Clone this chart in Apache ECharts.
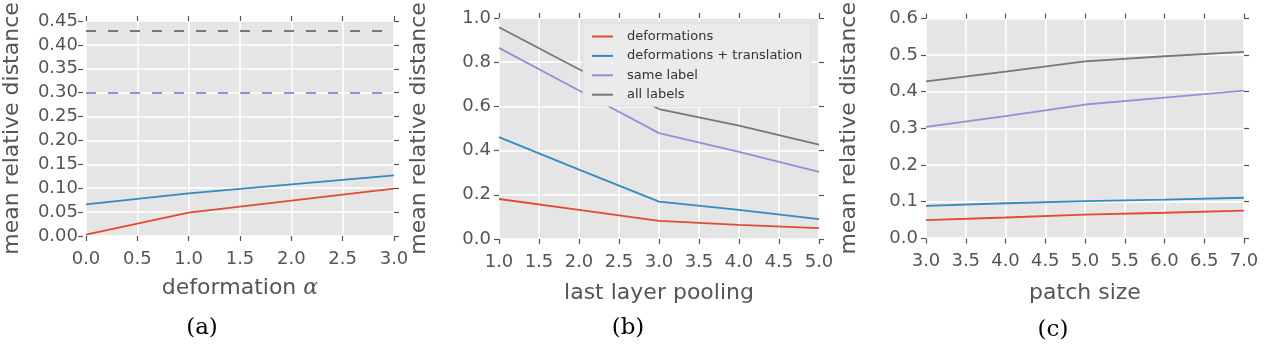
<!DOCTYPE html>
<html>
<head>
<meta charset="utf-8">
<script src="https://cdn.jsdelivr.net/npm/echarts@6/dist/echarts.min.js"></script>
<style>
  html, body { margin: 0; background: #fff; }
  #chart { width: 1264px; height: 354px; }
</style>
</head>
<body>
<div id="chart"></div>
<script>
// series names / colours shared by the three panels
const seriesNames = ["deformations", "deformations + translation", "same label", "all labels"];
const seriesColors = ["#E24A33", "#348ABD", "#988ED5", "#777777"];

// (a) deformation alpha
const alphaX = [0, 1, 2, 3];
const alphaDeform = [0.003, 0.049, 0.074, 0.099];
const alphaDeformTrans = [0.066, 0.089, 0.108, 0.127];
const alphaSameLabel = [0.304];
const alphaAllLabels = [0.428];

// (b) last layer pooling
const poolX = [1, 2, 3, 4, 5];
const poolDeform = [0.181, 0.132, 0.082, 0.064, 0.049];
const poolDeformTrans = [0.461, 0.314, 0.169, 0.132, 0.090];
const poolSameLabel = [0.865, 0.672, 0.479, 0.394, 0.304];
const poolAllLabels = [0.958, 0.768, 0.588, 0.513, 0.427];

// (c) patch size
const patchX = [3, 4, 5, 6, 7];
const patchDeform = [0.049, 0.056, 0.064, 0.069, 0.075];
const patchDeformTrans = [0.088, 0.095, 0.101, 0.105, 0.110];
const patchSameLabel = [0.304, 0.333, 0.365, 0.384, 0.403];
const patchAllLabels = [0.428, 0.455, 0.483, 0.497, 0.509];

const captions = ["(a)", "(b)", "(c)"];

const FONT = "DejaVu Sans";
const TXT = "#555555";

// plot boxes of the three panels
const grids = [
  { left: 83, right: 870, top: 21, height: 215 },
  { left: 499, right: 445, top: 18, height: 221 },
  { left: 926, right: 20, top: 18, height: 220 }
];
const plotWidth = g => 1264 - g.left - g.right;

function pairs(xs, ys) {
  return xs.map((x, i) => [x, ys[i]]);
}

// axis that only draws tick marks (matplotlib-like ticks on all four sides);
// the bottom/left ones are top/right axes shifted across the plot with ticks flipped
function tickAxis(idx, min, max, interval, position, offset) {
  return {
    type: "value", gridIndex: idx, min: min, max: max, interval: interval,
    position: position,
    offset: offset,
    axisLine: { show: true, onZero: false, lineStyle: { color: "rgba(0,0,0,0)", width: 1 } },
    axisTick: { show: true, inside: offset < 0, length: 5, lineStyle: { color: TXT, width: 1.2 } },
    axisLabel: { show: false },
    splitLine: { show: false }
  };
}

function xAxes(idx, min, max, name, gap) {
  return [
    {
      type: "value", gridIndex: idx, min: min, max: max, interval: 0.5,
      position: "bottom",
      name: name, nameLocation: "middle", nameGap: gap,
      nameTextStyle: {
        fontFamily: FONT, fontSize: 22, color: TXT,
        rich: { a: { fontFamily: "DejaVu Serif", fontStyle: "italic", fontSize: 22, color: TXT } }
      },
      axisLine: { show: false },
      axisTick: { show: false },
      axisLabel: { fontFamily: FONT, fontSize: 18, color: TXT, margin: 14, formatter: v => v.toFixed(1) },
      splitLine: { show: true, lineStyle: { color: "#ffffff", width: 1.5 } }
    },
    tickAxis(idx, min, max, 0.5, "top", 0),
    tickAxis(idx, min, max, 0.5, "top", -grids[idx].height)
  ];
}

function yAxes(idx, max, interval, digits, gap) {
  return [
    {
      type: "value", gridIndex: idx, min: 0, max: max, interval: interval,
      position: "left",
      name: "mean relative distance", nameLocation: "middle", nameGap: gap, nameRotate: 90,
      nameTextStyle: { fontFamily: FONT, fontSize: 22, color: TXT },
      axisLine: { show: false },
      axisTick: { show: false },
      axisLabel: { fontFamily: FONT, fontSize: 18, color: TXT, margin: 8, formatter: v => v.toFixed(digits) },
      splitLine: { show: true, lineStyle: { color: "#ffffff", width: 1.5 } }
    },
    tickAxis(idx, 0, max, interval, "right", 0),
    tickAxis(idx, 0, max, interval, "right", -plotWidth(grids[idx]))
  ];
}

function lineSeries(k, idx, data, extra) {
  return Object.assign({
    type: "line",
    name: seriesNames[k],
    xAxisIndex: idx * 3,
    yAxisIndex: idx * 3,
    data: data,
    symbol: "none",
    silent: true,
    lineStyle: { color: seriesColors[k], width: 1.8 },
    itemStyle: { color: seriesColors[k] }
  }, extra || {});
}

const chart = echarts.init(document.getElementById("chart"));

const series = [
  lineSeries(0, 0, pairs(alphaX, alphaDeform)),
  lineSeries(1, 0, pairs(alphaX, alphaDeformTrans), {
    markLine: {
      silent: true,
      symbol: ["none", "none"],
      label: { show: false },
      data: [
        { yAxis: alphaAllLabels[0], lineStyle: { color: seriesColors[3], type: [10, 12], width: 1.8 } },
        { yAxis: alphaSameLabel[0], lineStyle: { color: seriesColors[2], type: [10, 12], width: 1.8 } }
      ]
    }
  }),
  lineSeries(0, 1, pairs(poolX, poolDeform)),
  lineSeries(1, 1, pairs(poolX, poolDeformTrans)),
  lineSeries(2, 1, pairs(poolX, poolSameLabel)),
  lineSeries(3, 1, pairs(poolX, poolAllLabels)),
  lineSeries(0, 2, pairs(patchX, patchDeform)),
  lineSeries(1, 2, pairs(patchX, patchDeformTrans)),
  lineSeries(2, 2, pairs(patchX, patchSameLabel)),
  lineSeries(3, 2, pairs(patchX, patchAllLabels))
];

const captionPos = [[202, 328], [628, 328], [1053, 330]];

chart.setOption({
  animation: false,
  backgroundColor: "#ffffff",
  grid: grids.map(g => Object.assign({ show: true, backgroundColor: "#E5E5E5", borderWidth: 0 }, g)),
  xAxis: [].concat(
    xAxes(0, 0, 3, "deformation {a|α}", 41),
    xAxes(1, 1, 5, "last layer pooling", 43),
    xAxes(2, 3, 7, "patch size", 44)
  ),
  yAxis: [].concat(
    yAxes(0, 0.45, 0.05, 2, 63),
    yAxes(1, 1.0, 0.2, 1, 69),
    yAxes(2, 0.6, 0.1, 1, 66)
  ),
  legend: {
    data: seriesNames,
    orient: "vertical",
    left: 583,
    top: 23,
    itemWidth: 21,
    itemHeight: 14,
    itemGap: 6.4,
    padding: [7, 8, 5, 9],
    icon: "path://M0,0 L21,0 L21,2 L0,2 Z",
    backgroundColor: "#EBEBEB",
    borderColor: "#DDDDDD",
    borderWidth: 1,
    selectedMode: false,
    textStyle: { fontFamily: FONT, fontSize: 13, color: "#333333", padding: [0, 0, 0, 9] }
  },
  graphic: captions.map((c, i) => ({
    type: "text",
    x: captionPos[i][0],
    y: captionPos[i][1],
    style: {
      text: c,
      font: "23px 'DejaVu Serif'",
      fill: "#000000",
      textAlign: "center",
      textVerticalAlign: "middle"
    }
  })),
  series: series
});
</script>
</body>
</html>
